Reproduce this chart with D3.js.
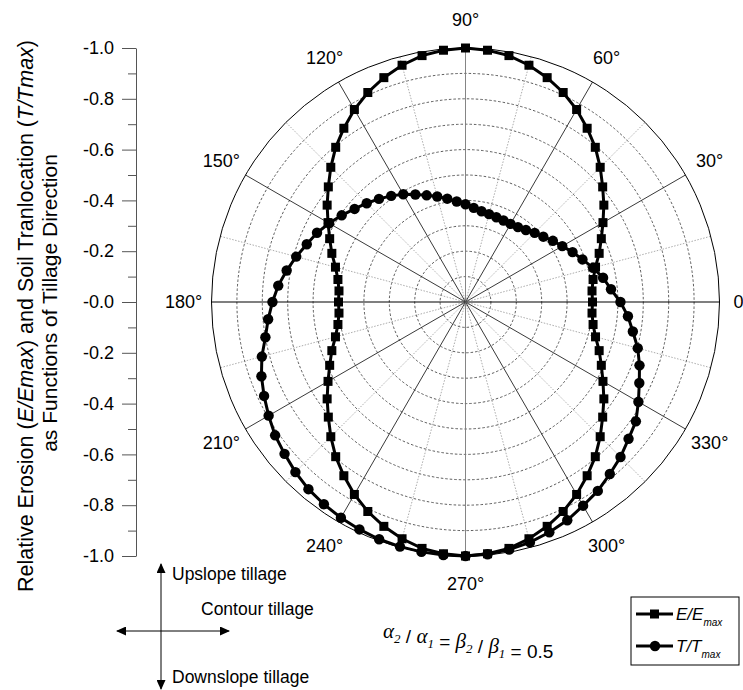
<!DOCTYPE html>
<html>
<head>
<meta charset="utf-8">
<script src="https://cdn.jsdelivr.net/npm/d3@7"></script>
<style>
  body { margin: 0; background: #fff; }
  svg { display: block; font-family: "Liberation Sans", Arial, sans-serif; }
</style>
</head>
<body>
<div id="chart"></div>
<script>
// tillage direction (degrees, counter-clockwise from contour direction)
const angles = [0, 5, 10, 15, 20, 25, 30, 35, 40, 45, 50, 55, 60, 65, 70, 75, 80, 85,
  90, 95, 100, 105, 110, 115, 120, 125, 130, 135, 140, 145, 150, 155, 160, 165, 170, 175,
  180, 185, 190, 195, 200, 205, 210, 215, 220, 225, 230, 235, 240, 245, 250, 255, 260, 265,
  270, 275, 280, 285, 290, 295, 300, 305, 310, 315, 320, 325, 330, 335, 340, 345, 350, 355]

// E/Emax
const erosion = [-0.50, -0.50, -0.51, -0.53, -0.56, -0.59, -0.625, -0.665, -0.705, -0.75, -0.795, -0.835, -0.875, -0.91, -0.94, -0.965, -0.985, -0.995,
  -1.0, -0.995, -0.985, -0.965, -0.94, -0.91, -0.875, -0.835, -0.795, -0.75, -0.705, -0.665, -0.625, -0.59, -0.56, -0.53, -0.51, -0.50,
  -0.50, -0.50, -0.51, -0.53, -0.56, -0.59, -0.625, -0.665, -0.705, -0.75, -0.795, -0.835, -0.875, -0.91, -0.94, -0.965, -0.985, -0.995,
  -1.0, -0.995, -0.985, -0.965, -0.94, -0.91, -0.875, -0.835, -0.795, -0.75, -0.705, -0.665, -0.625, -0.59, -0.56, -0.53, -0.51, -0.50]

// T/Tmax
const translocation = [-0.61, -0.575, -0.55, -0.52, -0.49, -0.465, -0.44, -0.42, -0.40, -0.385, -0.37, -0.36, -0.355, -0.354, -0.355, -0.358, -0.363, -0.372,
  -0.385, -0.397, -0.413, -0.43, -0.447, -0.467, -0.49, -0.51, -0.53, -0.55, -0.57, -0.595, -0.62, -0.645, -0.665, -0.69, -0.715, -0.74,
  -0.76, -0.78, -0.80, -0.83, -0.855, -0.875, -0.895, -0.915, -0.93, -0.947, -0.962, -0.972, -0.981, -0.988, -0.994, -0.997, -0.999, -1.0,
  -1.0, -0.997, -0.99, -0.98, -0.965, -0.948, -0.926, -0.908, -0.884, -0.863, -0.838, -0.819, -0.786, -0.755, -0.729, -0.702, -0.669, -0.642]

const angleLabels = [0, 30, 60, 90, 120, 150, 180, 210, 240, 270, 300, 330]
const gridRadii = [-0.1, -0.2, -0.3, -0.4, -0.5, -0.6, -0.7, -0.8, -0.9]
const spokeAngles = [0, 15, 30, 45, 60, 75, 90, 105, 120, 135, 150, 165, 180, 195, 210, 225, 240, 255, 270, 285, 300, 315, 330, 345]
const axisMajor = [-1, -0.8, -0.6, -0.4, -0.2, 0, 0.2, 0.4, 0.6, 0.8, 1]
const axisMinor = [-0.9, -0.7, -0.5, -0.3, -0.1, 0.1, 0.3, 0.5, 0.7, 0.9]

const width = 743
const height = 690
const cx = 465.5
const cy = 302
const R = 254

const svg = d3.select('#chart').append('svg')
  .attr('width', width)
  .attr('height', height)

svg.append('rect').attr('width', width).attr('height', height).attr('fill', '#fff')

const r = d3.scaleLinear().domain([0, -1]).range([0, R])
const rad = deg => (90 - deg) * Math.PI / 180 // d3 radial angle (clockwise from top)

const polar = svg.append('g').attr('transform', `translate(${cx},${cy})`)

// grid circles
polar.selectAll('circle.grid')
  .data(gridRadii)
  .join('circle')
  .attr('class', 'grid')
  .attr('r', d => r(d))
  .attr('fill', 'none')
  .attr('stroke', '#333')
  .attr('stroke-width', 0.8)
  .attr('stroke-dasharray', '2.5,2')

// spokes
polar.selectAll('line.spoke')
  .data(spokeAngles)
  .join('line')
  .attr('class', 'spoke')
  .attr('x1', 0).attr('y1', 0)
  .attr('x2', d => d3.pointRadial(rad(d), R)[0])
  .attr('y2', d => d3.pointRadial(rad(d), R)[1])
  .attr('stroke', d => d % 180 === 0 ? '#000' : d % 90 === 0 ? '#777' : d % 30 === 0 ? '#222' : '#888')
  .attr('stroke-width', d => d % 180 === 0 ? 1.2 : d % 30 === 0 ? 0.9 : 0.7)
  .attr('stroke-dasharray', d => d % 30 === 0 ? null : '1.5,1.5')

polar.append('circle')
  .attr('r', R)
  .attr('fill', 'none')
  .attr('stroke', '#000')
  .attr('stroke-width', 1)

// angle labels (the 0° one runs off the right edge, as in the original)
polar.selectAll('text.angle')
  .data(angleLabels)
  .join('text')
  .attr('class', 'angle')
  .attr('x', d => d === 0 ? R + 14 : d3.pointRadial(rad(d), 282)[0])
  .attr('y', d => d3.pointRadial(rad(d), 282)[1])
  .attr('text-anchor', d => d === 0 ? 'start' : 'middle')
  .attr('dominant-baseline', 'central')
  .attr('font-size', 18)
  .text(d => d + '°')

// series
const seriesList = [
  { key: 'E', values: erosion, marker: 'square' },
  { key: 'T', values: translocation, marker: 'circle' }
]

const line = d3.lineRadial()
  .angle(d => rad(d.angle))
  .radius(d => r(d.value))
  .curve(d3.curveLinearClosed)

seriesList.forEach(s => {
  const pts = angles.map((a, i) => ({ angle: a, value: s.values[i] }))
  const g = polar.append('g').attr('class', 'series-' + s.key)
  g.append('path')
    .datum(pts)
    .attr('d', line)
    .attr('fill', 'none')
    .attr('stroke', '#000')
    .attr('stroke-width', 3)

  if (s.marker === 'square') {
    g.selectAll('rect')
      .data(pts)
      .join('rect')
      .attr('x', d => d3.pointRadial(rad(d.angle), r(d.value))[0] - 4.5)
      .attr('y', d => d3.pointRadial(rad(d.angle), r(d.value))[1] - 4.5)
      .attr('width', 9)
      .attr('height', 9)
      .attr('fill', '#000')
  } else {
    g.selectAll('circle')
      .data(pts)
      .join('circle')
      .attr('cx', d => d3.pointRadial(rad(d.angle), r(d.value))[0])
      .attr('cy', d => d3.pointRadial(rad(d.angle), r(d.value))[1])
      .attr('r', 5.2)
      .attr('fill', '#000')
  }
})

// left value axis
const y = d3.scaleLinear().domain([-1, 1]).range([cy - R, cy + R])

svg.append('g')
  .attr('transform', 'translate(136,0)')
  .call(d3.axisLeft(y).tickValues(axisMinor).tickSize(8).tickFormat(''))
  .call(g => g.select('.domain').remove())
  .call(g => g.selectAll('line').attr('stroke', '#555'))

svg.append('g')
  .attr('transform', 'translate(136,0)')
  .call(d3.axisLeft(y).tickValues(axisMajor).tickSize(14).tickSizeOuter(0).tickPadding(8)
    .tickFormat(d => '-' + Math.abs(d).toFixed(1)))
  .call(g => g.select('.domain').attr('stroke', '#555'))
  .call(g => g.selectAll('line').attr('stroke', '#555'))
  .call(g => g.selectAll('text').attr('font-size', 18).attr('fill', '#000')
    .attr('font-family', '"Liberation Sans", Arial, sans-serif'))

// axis title
const t1 = svg.append('text')
  .attr('transform', 'translate(33,316) rotate(-90)')
  .attr('text-anchor', 'middle')
  .attr('font-size', 21.5)
t1.append('tspan').text('Relative Erosion (')
t1.append('tspan').attr('font-style', 'italic').text('E/Emax')
t1.append('tspan').text(') and Soil Tranlocation (')
t1.append('tspan').attr('font-style', 'italic').text('T/Tmax')
t1.append('tspan').text(')')

svg.append('text')
  .attr('transform', 'translate(57,303) rotate(-90)')
  .attr('text-anchor', 'middle')
  .attr('font-size', 21)
  .text('as Functions of Tillage Direction')

// direction sketch
const defs = svg.append('defs')
defs.append('marker')
  .attr('id', 'arrow')
  .attr('viewBox', '0 0 10 10')
  .attr('refX', 9).attr('refY', 5)
  .attr('markerWidth', 10).attr('markerHeight', 9)
  .attr('markerUnits', 'userSpaceOnUse')
  .attr('orient', 'auto-start-reverse')
  .attr('preserveAspectRatio', 'none')
  .append('path')
  .attr('d', 'M0,0L10,5L0,10Z')
  .attr('fill', '#000')

const sketch = svg.append('g')
sketch.append('line')
  .attr('x1', 161).attr('y1', 564).attr('x2', 161).attr('y2', 689)
  .attr('stroke', '#000').attr('stroke-width', 1)
  .attr('marker-start', 'url(#arrow)').attr('marker-end', 'url(#arrow)')
sketch.append('line')
  .attr('x1', 117).attr('y1', 631).attr('x2', 229).attr('y2', 631)
  .attr('stroke', '#000').attr('stroke-width', 1)
  .attr('marker-start', 'url(#arrow)').attr('marker-end', 'url(#arrow)')

const sketchLabels = [
  { text: 'Upslope tillage', x: 172, y: 574 },
  { text: 'Contour tillage', x: 201, y: 609 },
  { text: 'Downslope tillage', x: 172, y: 677 }
]
sketch.selectAll('text')
  .data(sketchLabels)
  .join('text')
  .attr('x', d => d.x)
  .attr('y', d => d.y)
  .attr('dominant-baseline', 'central')
  .attr('font-size', 17.5)
  .text(d => d.text)

// ratio note
const note = svg.append('text')
  .attr('x', 383).attr('y', 638)
  .attr('font-size', 19)
const greek = (sym, sub) => {
  note.append('tspan').attr('font-family', '"Liberation Serif", serif').attr('font-style', 'italic')
    .attr('font-size', 21).text(sym)
  note.append('tspan').attr('font-family', '"Liberation Serif", serif').attr('font-style', 'italic')
    .attr('font-size', 13).attr('dy', 5).text(sub)
  note.append('tspan').attr('dy', -5).text('')
}
greek('α', '2')
note.append('tspan').text(' / ')
greek('α', '1')
note.append('tspan').text(' = ')
greek('β', '2')
note.append('tspan').text(' / ')
greek('β', '1')
note.append('tspan').text(' = 0.5')

// legend
const legend = svg.append('g').attr('transform', 'translate(631,597)')
legend.append('rect')
  .attr('width', 108).attr('height', 68)
  .attr('fill', '#fff').attr('stroke', '#000').attr('stroke-width', 1)

const legendItems = [
  { main: 'E/E', sub: 'max', marker: 'square', y: 17 },
  { main: 'T/T', sub: 'max', marker: 'circle', y: 49 }
]
legendItems.forEach(item => {
  const row = legend.append('g').attr('transform', `translate(0,${item.y})`)
  row.append('line').attr('x1', 5).attr('x2', 42).attr('stroke', '#000').attr('stroke-width', 3)
  if (item.marker === 'square') {
    row.append('rect').attr('x', 19).attr('y', -4.5).attr('width', 9).attr('height', 9).attr('fill', '#000')
  } else {
    row.append('circle').attr('cx', 24).attr('r', 5.2).attr('fill', '#000')
  }
  const txt = row.append('text').attr('x', 45).attr('y', 6).attr('font-size', 17).attr('font-style', 'italic')
  txt.append('tspan').text(item.main)
  txt.append('tspan').attr('font-size', 10).attr('dy', 6).text(item.sub)
})
</script>
</body>
</html>
